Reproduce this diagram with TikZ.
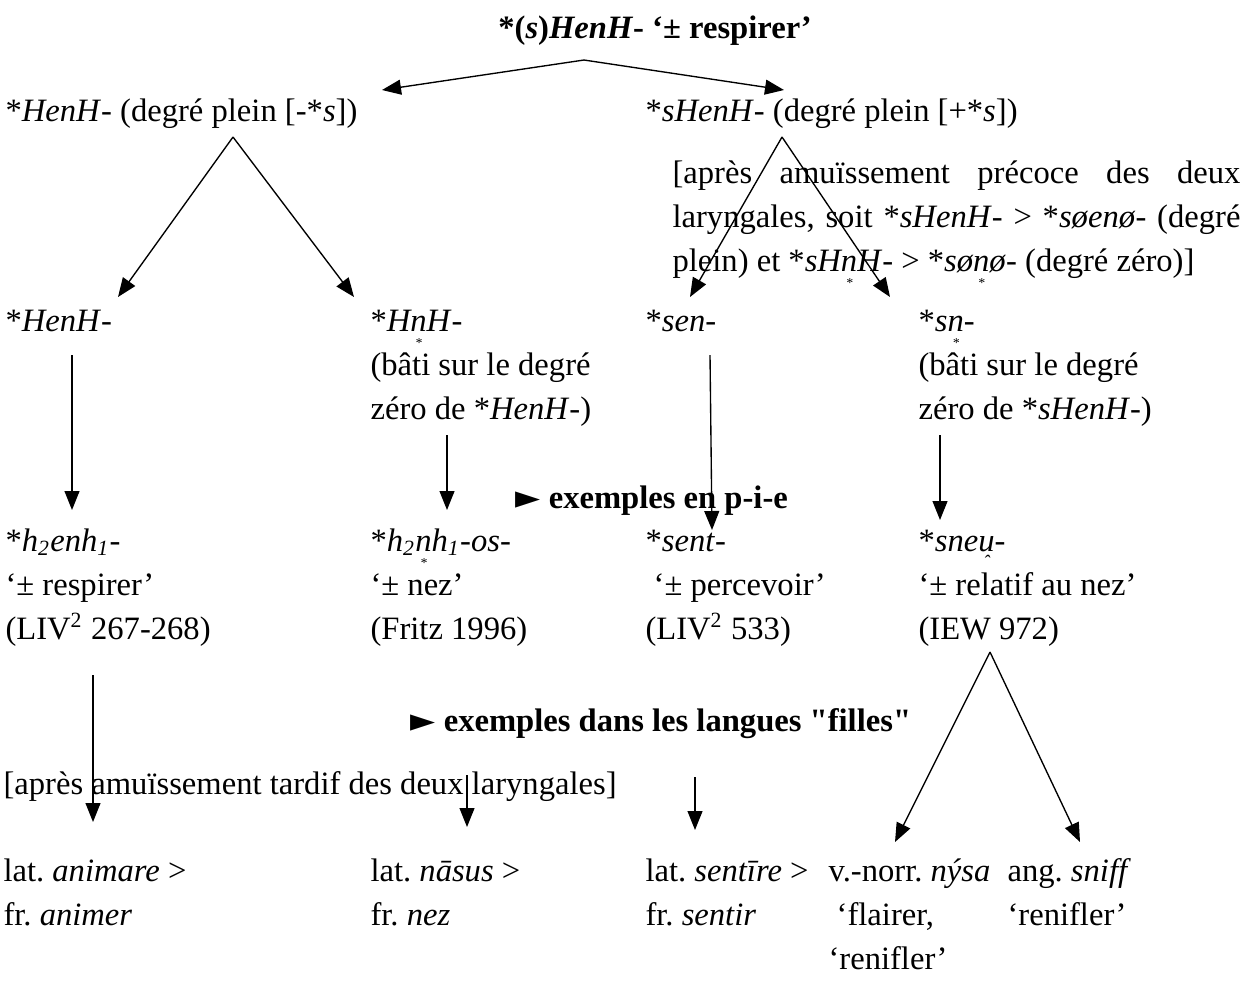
\documentclass[tikz,border=0pt]{standalone}
\usepackage{fontspec}
\setmainfont{Liberation Serif}[Ligatures=TeXOff]
\newfontfamily\symfont{DejaVu Sans}
\usetikzlibrary{arrows.meta, positioning}
\newcommand{\tfont}{\fontsize{12}{16.2}\selectfont\frenchspacing}
\newcommand{\syl}[1]{\ooalign{#1\cr\hidewidth\smash{\raisebox{-1.1ex}{\tiny *}}\hidewidth\cr}}
\newcommand{\semiv}[1]{\ooalign{#1\cr\hidewidth\smash{\raisebox{-6.5pt}{\scriptsize ˆ}}\hidewidth\cr}}
\newcommand{\pointer}{{\symfont ►}}
\tikzstyle{txt_node} = [inner sep=0pt, anchor=base west, align=left, font=\tfont]
\tikzstyle{multi_node} = [txt_node, text width=95pt, align=flush left]
\tikzstyle{head_node} = [inner sep=0pt, anchor=base, font=\tfont\bfseries]
\tikzstyle{tree_arrow} = [line width=0.5pt, -{Triangle[length=7pt, width=5.5pt]}]

\begin{document}
\begin{tikzpicture}[x=0.368pt, y=-0.368pt]
    \useasboundingbox (0,0) rectangle (1251,993);
    % racine
    \node (root) [head_node] at (655,38) {*(\textit{s})\textit{HenH}- ‘± respirer’};
    \node (plein_l) [txt_node] at (5,121) {*\textit{HenH}- (degré plein [-*\textit{s}])};
    \node (plein_r) [txt_node] at (645,121) {*\textit{sHenH}- (degré plein [+*\textit{s}])};
    \node (amuis_tot) [txt_node, text width=209pt, align=justify] at (672,183)
        {[après amuïssement précoce des deux\linebreak laryngales, soit *\textit{sHenH}- > *\textit{søenø}- (degré\linebreak plein) et *\textit{sH\syl{n}H}- > *\textit{sø\syl{n}ø}- (degré zéro)]};

    % formes reconstruites
    \node (henh) [txt_node] at (5,331) {*\textit{HenH}-};
    \node (hnh) [multi_node] at (370,331) {*\textit{H\syl{n}H}-\\(bâti sur le degré\\zéro de *\textit{HenH}-)};
    \node (sen) [txt_node] at (645,331) {*\textit{sen}-};
    \node (sn) [multi_node] at (918,331) {*\textit{s\syl{n}}-\\(bâti sur le degré\\zéro de *\textit{sHenH}-)};

    \node (ex_pie) [head_node, anchor=base west] at (515,508) {\pointer\ exemples en p-i-e};

    \node (h2enh1) [multi_node] at (5,551) {*\textit{h\textsubscript{2}enh\textsubscript{1}}-\\‘± respirer’\\(LIV\textsuperscript{2} 267-268)};
    \node (h2nh1os) [multi_node] at (370,551) {*\textit{h\textsubscript{2}\syl{n}h\textsubscript{1}-os}-\\‘± nez’\\(Fritz 1996)};
    \node (sent) [multi_node] at (645,551) {*\textit{sent}-\\\ ‘± percevoir’\\(LIV\textsuperscript{2} 533)};
    \node (sneu) [multi_node] at (918,551) {*\textit{sne\semiv{u}}-\\‘± relatif au nez’\\(IEW 972)};

    % langues filles
    \node (ex_filles) [head_node, anchor=base west] at (410,731) {\pointer\ exemples dans les langues "filles"};
    \node (amuis_tard) [txt_node] at (3,794) {[après amuïssement tardif des deux laryngales]};

    \node (animare) [multi_node] at (3,881) {lat. \textit{animare} >\\fr. \textit{animer}};
    \node (nasus) [multi_node] at (370,881) {lat. \textit{nāsus} >\\fr. \textit{nez}};
    \node (sentire) [multi_node] at (645,881) {lat. \textit{sentīre} >\\fr. \textit{sentir}};
    \node (nysa) [multi_node] at (828,881) {v.-norr. \textit{nýsa}\\\ ‘flairer,\\‘renifler’};
    \node (sniff) [multi_node] at (1007,881) {ang. \textit{sniff}\\‘renifler’};

    % points des fleches
    \coordinate (root_v) at (584,60);
    \coordinate (root_l) at (382,90);
    \coordinate (root_r) at (784,90);
    \coordinate (pl_v) at (233,137);
    \coordinate (pl_l) at (118,297);
    \coordinate (pl_r) at (354,297);
    \coordinate (pr_v) at (782,137);
    \coordinate (pr_l) at (690,297);
    \coordinate (pr_r) at (890,297);
    \coordinate (henh_s) at (72,355);
    \coordinate (henh_e) at (72,510);
    \coordinate (hnh_s) at (447,435);
    \coordinate (hnh_e) at (447,510);
    \coordinate (sen_s) at (710,355);
    \coordinate (sen_e) at (712,530);
    \coordinate (sn_s) at (940,435);
    \coordinate (sn_e) at (940,520);
    \coordinate (h2_s) at (93,675);
    \coordinate (h2_e) at (93,822);
    \coordinate (os_s) at (467,775);
    \coordinate (os_e) at (467,827);
    \coordinate (sent_s) at (695,777);
    \coordinate (sent_e) at (695,830);
    \coordinate (ie_v) at (990,652);
    \coordinate (ie_l) at (895,842);
    \coordinate (ie_r) at (1080,842);

    \draw [tree_arrow] (root_v) -- (root_l);
    \draw [tree_arrow] (root_v) -- (root_r);
    \draw [tree_arrow] (pl_v) -- (pl_l);
    \draw [tree_arrow] (pl_v) -- (pl_r);
    \draw [tree_arrow] (pr_v) -- (pr_l);
    \draw [tree_arrow] (pr_v) -- (pr_r);

    \draw [tree_arrow] (henh_s) -- (henh_e);
    \draw [tree_arrow] (hnh_s) -- (hnh_e);
    \draw [tree_arrow] (sen_s) -- (sen_e);
    \draw [tree_arrow] (sn_s) -- (sn_e);

    \draw [tree_arrow] (h2_s) -- (h2_e);
    \draw [tree_arrow] (os_s) -- (os_e);
    \draw [tree_arrow] (sent_s) -- (sent_e);
    \draw [tree_arrow] (ie_v) -- (ie_l);
    \draw [tree_arrow] (ie_v) -- (ie_r);
\end{tikzpicture}
\end{document}
